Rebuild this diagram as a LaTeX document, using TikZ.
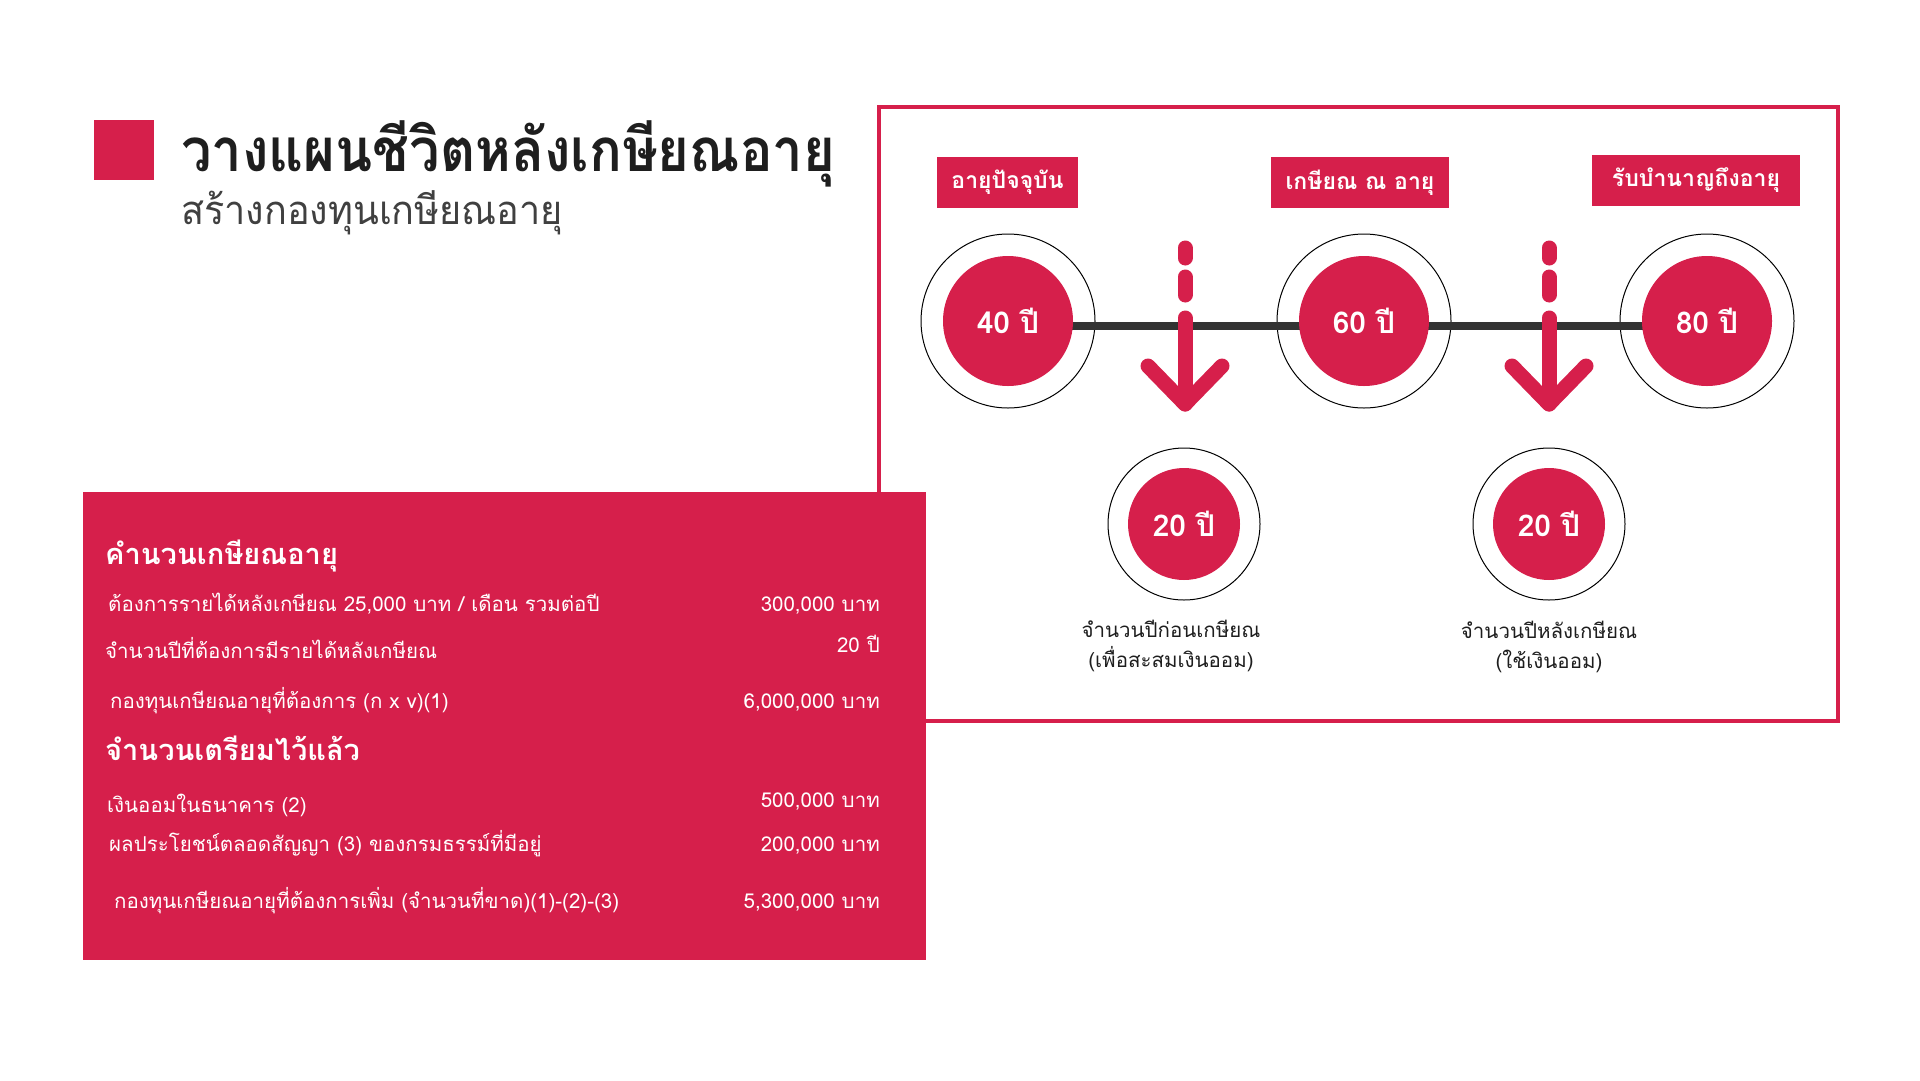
\documentclass[tikz,border=0pt]{standalone}
\usepackage{fontspec}
\newfontfamily\thai[Script=Thai]{Loma}
\definecolor{crim}{HTML}{D61F4B}
\definecolor{barc}{HTML}{333333}
\definecolor{ink}{HTML}{1E1E1E}
\begin{document}
\begin{tikzpicture}[x=1pt,y=-1pt,
  every node/.style={font=\thai, inner sep=0pt},
  lbl/.style={fill=crim, text=white, font=\thai\bfseries\fontsize{23}{27}\selectfont, minimum height=51pt},
  ring/.style={circle, draw=black, line width=1pt, fill=white},
  disc/.style={circle, fill=crim, text=white, font=\thai\bfseries\fontsize{30}{36}\selectfont},
  rowtext/.style={text=white, font=\thai\fontsize{20.5}{24}\selectfont, anchor=base west},
  valtext/.style={text=white, font=\thai\fontsize{20.5}{24}\selectfont, anchor=base east},
  headtext/.style={text=white, font=\thai\bfseries\fontsize{29}{34}\selectfont, anchor=base west},
  captext/.style={text=ink, font=\thai\fontsize{20.5}{30}\selectfont, align=center},
  arrowline/.style={draw=crim, line width=15pt, line cap=round, line join=round},
]
\useasboundingbox (0,0) rectangle (1920,1080);
\fill[white] (0,0) rectangle (1920,1080);

% title
\node[fill=crim, minimum width=60pt, minimum height=60pt] (sq) at (124,150) {};
\node[anchor=base west, text=ink, font=\thai\bfseries\fontsize{60}{70}\selectfont] (title) at (181,171) {\scalebox{0.905}[1]{วางแผนชีวิตหลังเกษียณอายุ}};
\node[anchor=base west, text=ink!85, font=\thai\fontsize{40}{48}\selectfont] (subtitle) at (181,224) {\scalebox{0.945}[1]{สร้างกองทุนเกษียณอายุ}};

% outline frame
\node[draw=crim, line width=4pt, minimum width=959pt, minimum height=614pt] (frame) at (1358.5,414) {};

% labels
\node[lbl, minimum width=141pt] (l40) at (1007.5,182.5) {อายุปัจจุบัน};
\node[lbl, minimum width=178pt] (l60) at (1360,182.5) {เกษียณ ณ อายุ};
\node[lbl, minimum width=208pt] (l80) at (1696,180) {รับบำนาญถึงอายุ};

% rings
\node[ring, minimum size=174pt] (r40) at (1008,321) {};
\node[ring, minimum size=174pt] (r60) at (1364,321) {};
\node[ring, minimum size=174pt] (r80) at (1707,321) {};
\node[ring, minimum size=152pt] (r20a) at (1184,524) {};
\node[ring, minimum size=152pt] (r20b) at (1549,524) {};

% timeline bar
\draw[barc, line width=8pt] ([yshift=-5pt]r40.center) -- ([yshift=-5pt]r80.center);

% discs
\node[disc, minimum size=130pt] (c40) at (r40.center) {40 ปี};
\node[disc, minimum size=130pt] (c60) at (r60.center) {60 ปี};
\node[disc, minimum size=130pt] (c80) at (r80.center) {80 ปี};
\node[disc, minimum size=112pt] (c20a) at (r20a.center) {20 ปี};
\node[disc, minimum size=112pt] (c20b) at (r20b.center) {20 ปี};

% arrows
\foreach \n/\x in {a/1185, b/1549}{
  \coordinate (d1\n) at (\x,248);
  \coordinate (d2\n) at (\x,258);
  \coordinate (e1\n) at (\x,277);
  \coordinate (e2\n) at (\x,295);
  \coordinate (s\n) at (\x,318);
  \coordinate (t\n) at (\x,404);
  \coordinate (la\n) at (\x-37,366);
  \coordinate (ra\n) at (\x+37,366);
  \draw[arrowline] (d1\n) -- (d2\n);
  \draw[arrowline] (e1\n) -- (e2\n);
  \draw[arrowline] (s\n) -- (t\n);
  \draw[arrowline] (la\n) -- (t\n) -- (ra\n);
}

% captions
\node[captext] (cap1) at (1171,646) {จำนวนปีก่อนเกษียณ\\(เพื่อสะสมเงินออม)};
\node[captext] (cap2) at (1549,647) {จำนวนปีหลังเกษียณ\\(ใช้เงินออม)};

% red panel
\node[fill=crim, minimum width=843pt, minimum height=468pt] (panel) at (504.5,726) {};
\node[headtext] (h1) at (105,564) {คำนวนเกษียณอายุ};
\node[rowtext] (a1) at (108,611) {ต้องการรายได้หลังเกษียณ 25,000 บาท / เดือน รวมต่อปี};
\node[valtext] (v1) at (880,611) {300,000 บาท};
\node[rowtext] (a2) at (105,658) {จำนวนปีที่ต้องการมีรายได้หลังเกษียณ};
\node[valtext] (v2) at (880,652) {20 ปี};
\node[rowtext] (a3) at (110,708) {กองทุนเกษียณอายุที่ต้องการ (ก x v)(1)};
\node[valtext] (v3) at (880,708) {6,000,000 บาท};
\node[headtext] (h2) at (105,760) {จำนวนเตรียมไว้แล้ว};
\node[rowtext] (a4) at (107,812) {เงินออมในธนาคาร (2)};
\node[valtext] (v4) at (880,807) {500,000 บาท};
\node[rowtext] (a5) at (109,851) {ผลประโยชน์ตลอดสัญญา (3) ของกรมธรรม์ที่มีอยู่};
\node[valtext] (v5) at (880,851) {200,000 บาท};
\node[rowtext] (a6) at (114,908) {กองทุนเกษียณอายุที่ต้องการเพิ่ม (จำนวนที่ขาด)(1)-(2)-(3)};
\node[valtext] (v6) at (880,908) {5,300,000 บาท};
\end{tikzpicture}
\end{document}
